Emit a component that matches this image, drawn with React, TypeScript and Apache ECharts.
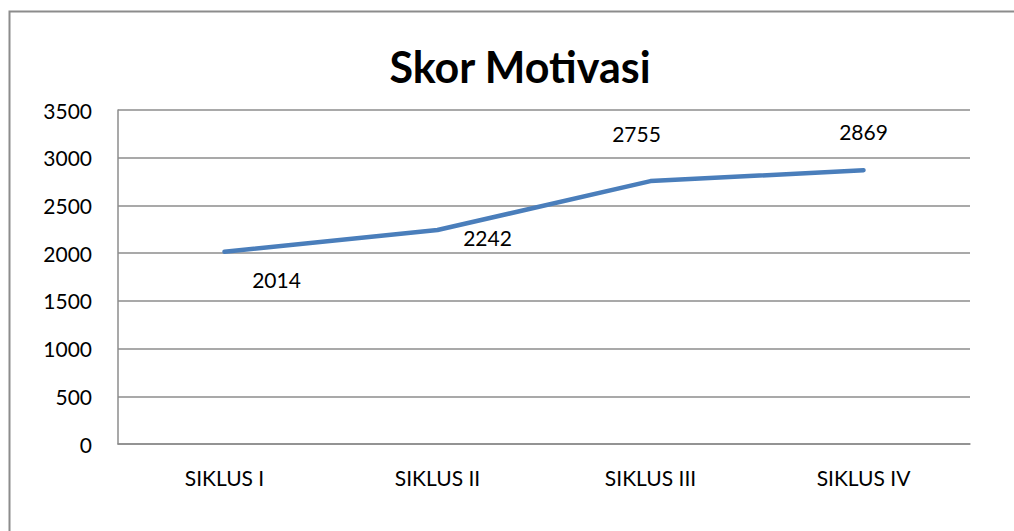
import React, { useEffect, useRef } from "react";
import * as echarts from "echarts";

const categories = ["SIKLUS I", "SIKLUS II", "SIKLUS III", "SIKLUS IV"];
const values = [2014, 2242, 2755, 2869];
const labelOffsets = [
  [52, 28],
  [50, 7],
  [-14, -48],
  [0, -39],
];

export default function App() {
  const ref = useRef<HTMLDivElement>(null);
  useEffect(() => {
    const chart = echarts.init(ref.current!, null, { renderer: "svg" });
    const font = "Lato, 'Open Sans', sans-serif";
    chart.setOption({
      animation: false,
      backgroundColor: "#ffffff",
      title: {
        text: "Skor Motivasi",
        left: 515,
        textAlign: "center",
        top: 40,
        textStyle: { fontFamily: font, fontSize: 43, fontWeight: "bold", color: "#000" },
      },
      graphic: [
        {
          type: "rect",
          shape: { x: 9.5, y: 11.5, width: 1200, height: 700 },
          style: { fill: "none", stroke: "#8c8c8c", lineWidth: 2 },
          silent: true,
        },
      ],
      grid: { left: 118, right: 44, top: 110, bottom: 87 },
      xAxis: {
        type: "category",
        data: categories,
        boundaryGap: true,
        axisLine: { show: true, lineStyle: { color: "#8c8c8c", width: 1.5 } },
        axisTick: { show: false },
        axisLabel: { color: "#000", fontFamily: font, fontSize: 21, margin: 23 },
      },
      yAxis: {
        type: "value",
        min: 0,
        max: 3500,
        interval: 500,
        axisLine: { show: true, lineStyle: { color: "#8c8c8c", width: 1.5 } },
        axisTick: { show: false },
        splitLine: { lineStyle: { color: "#8c8c8c", width: 1.5 } },
        axisLabel: {
          color: "#000",
          fontFamily: font,
          fontSize: 21,
          margin: 26,
          formatter: (v: number) => String(v),
        },
      },
      series: [
        {
          type: "line",
          data: values.map((v, i) => ({
            value: v,
            label: { offset: labelOffsets[i] },
          })),
          symbol: "circle",
          symbolSize: 0,
          showSymbol: true,
          lineStyle: { color: "#4a7ebb", width: 4.5, cap: "round" },
          itemStyle: { color: "#4a7ebb" },
          label: {
            show: true,
            position: "inside",
            color: "#000",
            fontFamily: font,
            fontSize: 21,
          },
        },
      ],
    });
    return () => chart.dispose();
  }, []);
  return (
    <div
      ref={ref}
      style={{ position: "fixed", left: 0, top: 0, width: 1014, height: 531 }}
    />
  );
}
